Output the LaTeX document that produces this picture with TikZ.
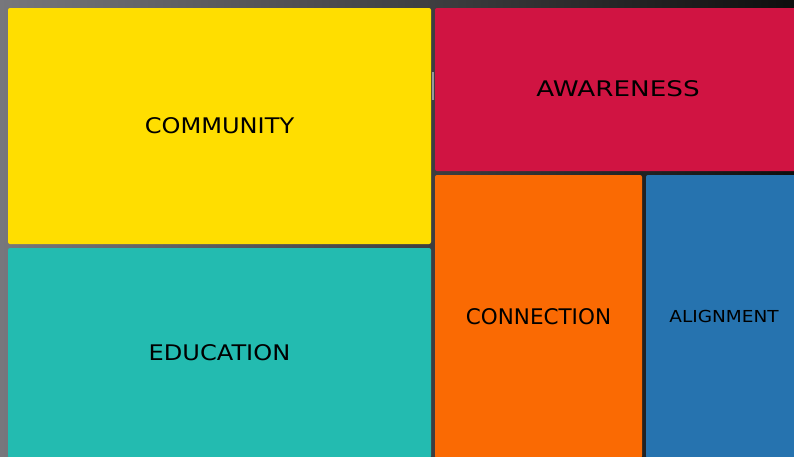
\documentclass[tikz,border=0pt]{standalone}
\usepackage{fontspec}
\setmainfont{DejaVu Sans}
\definecolor{bgleft}{HTML}{77777C}
\definecolor{bgright}{HTML}{0E0E0E}
\definecolor{tileyellow}{HTML}{FFDE00}
\definecolor{tileteal}{HTML}{23BBB0}
\definecolor{tilered}{HTML}{D01442}
\definecolor{tileorange}{HTML}{FA6A03}
\definecolor{tileblue}{HTML}{2673AF}
\newcommand{\widetext}[2][1.12]{\scalebox{#1}[1]{#2}}
\tikzset{tile/.style={rounded corners=2pt, inner sep=0, text=black, font=\fontsize{21.5}{26}\selectfont}}

\begin{document}
\begin{tikzpicture} [x=1pt, y=-1pt]
\useasboundingbox (0,0) rectangle (794,456);
\clip (0,0) rectangle (794,456);
\shade[left color=bgleft, right color=bgright] (0,0) rectangle (794,456);
\fill[gray!80] (432,72) rectangle (434,100);
\node[tile, fill=tileyellow, minimum width=423pt, minimum height=236pt] (community) at (219.5,126) {\widetext{COMMUNITY}};
\node[tile, fill=tileteal, minimum width=423pt, minimum height=210pt] (education) at (219.5,353) {\widetext{EDUCATION}};
\node[tile, fill=tilered, minimum width=366pt, minimum height=163pt] (awareness) at (618,89.5) {\raisebox{1.5pt}{\widetext[1.22]{AWARENESS}}};
\node[tile, fill=tileorange, minimum width=207pt, minimum height=283pt] (connection) at (538.5,316.5) {\widetext[1.0]{CONNECTION}};
\node[tile, fill=tileblue, minimum width=156pt, minimum height=283pt, font=\fontsize{16.5}{20}\selectfont] (alignment) at (724,316.5) {\widetext{ALIGNMENT}};
\end{tikzpicture}
\end{document}
